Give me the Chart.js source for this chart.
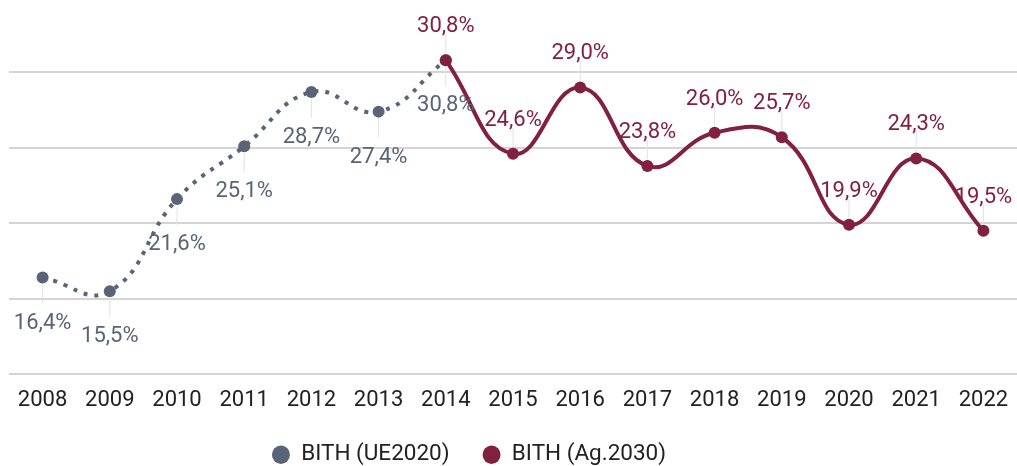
<!DOCTYPE html>
<html>
<head>
<meta charset="utf-8">
<script src="https://cdn.jsdelivr.net/npm/chart.js@4"></script>
<style>
  html, body { margin: 0; padding: 0; background: #fff; }
  #wrap { width: 1017px; height: 466px; }
</style>
</head>
<body>
<div id="wrap"><canvas id="chart"></canvas></div>
<script>
// Data
const years = ['2008', '2009', '2010', '2011', '2012', '2013', '2014', '2015', '2016', '2017', '2018', '2019', '2020', '2021', '2022'];
const ue2020 = [16.4, 15.5, 21.6, 25.1, 28.7, 27.4, 30.8, null, null, null, null, null, null, null, null];
const ag2030 = [null, null, null, null, null, null, 30.8, 24.6, 29.0, 23.8, 26.0, 25.7, 19.9, 24.3, 19.5];
const seriesNames = ['BITH (UE2020)', 'BITH (Ag.2030)'];

const GREY = '#596476', RED = '#82203f';

// Labels with small leader lines
const labelPlugin = {
    id: 'labels',
    afterDatasetsDraw(chart) {
        const ctx = chart.ctx;
        ctx.save();
        ctx.font = '22px Roboto';
        ctx.textAlign = 'center';
        ctx.textBaseline = 'alphabetic';
        chart.data.datasets.forEach((ds, di) => {
            const meta = chart.getDatasetMeta(di);
            const below = di === 0;
            meta.data.forEach((pt, i) => {
                const v = ds.data[i];
                if (v === null) return;
                const x = pt.x, y = pt.y;
                ctx.strokeStyle = '#e2e2e2';
                ctx.lineWidth = 1;
                ctx.beginPath();
                if (below) { ctx.moveTo(x, y + 7); ctx.lineTo(x, y + 26); }
                else { ctx.moveTo(x, y - 7); ctx.lineTo(x, y - 26); }
                ctx.stroke();
                ctx.fillStyle = ds.borderColor;
                const txt = v.toFixed(1).replace('.', ',') + '%';
                ctx.fillText(txt, x, below ? y + 51 : y - 28);
            });
        });
        ctx.restore();
    }
};

// legend sits a bit left of centre in the original
const legendShift = {
    id: 'legendShift',
    afterLayout(chart) {
        const l = chart.legend;
        l.left -= 44; l.right -= 44;
        l.top -= 16; l.bottom -= 16;
    }
};

new Chart(document.getElementById('chart'), {
    type: 'line',
    data: {
        labels: years,
        datasets: [
            { label: seriesNames[0], data: ue2020, borderColor: GREY, backgroundColor: GREY, borderWidth: 4, borderDash: [4, 7], pointRadius: 6, pointHoverRadius: 6, pointBorderWidth: 0, tension: 0.45, order: 2 },
            { label: seriesNames[1], data: ag2030, borderColor: RED, backgroundColor: RED, borderWidth: 4, pointRadius: 6, pointHoverRadius: 6, pointBorderWidth: 0, tension: 0.45, order: 1 }
        ]
    },
    options: {
        responsive: true,
        maintainAspectRatio: false,
        animation: false,
        layout: { autoPadding: false, padding: { left: 9, right: 0, top: 0, bottom: -26 } },
        scales: {
            x: {
                offset: true,
                grid: { display: false, drawTicks: false },
                border: { display: false },
                ticks: { color: '#222', font: { family: 'Roboto', size: 22 }, padding: 13 },
                afterFit: s => { s.paddingLeft = 0; s.paddingRight = 0; }
            },
            y: {
                display: true,
                min: 10, max: 34.8,
                border: { display: false },
                grid: { color: c => (c.tick && c.tick.value % 5 === 0) ? '#d4d4d4' : 'transparent', lineWidth: 2, drawTicks: false },
                ticks: { display: false, stepSize: 5 }
            }
        },
        plugins: {
            legend: {
                position: 'bottom',
                labels: {
                    usePointStyle: true, pointStyle: 'circle', boxHeight: 13, pointStyleWidth: 18, padding: 33,
                    color: '#222', font: { family: 'Roboto', size: 22.5 },
                    sort: (a, b) => a.datasetIndex - b.datasetIndex
                }
            },
            tooltip: { enabled: false }
        }
    },
    plugins: [labelPlugin, legendShift]
});
</script>
</body>
</html>
